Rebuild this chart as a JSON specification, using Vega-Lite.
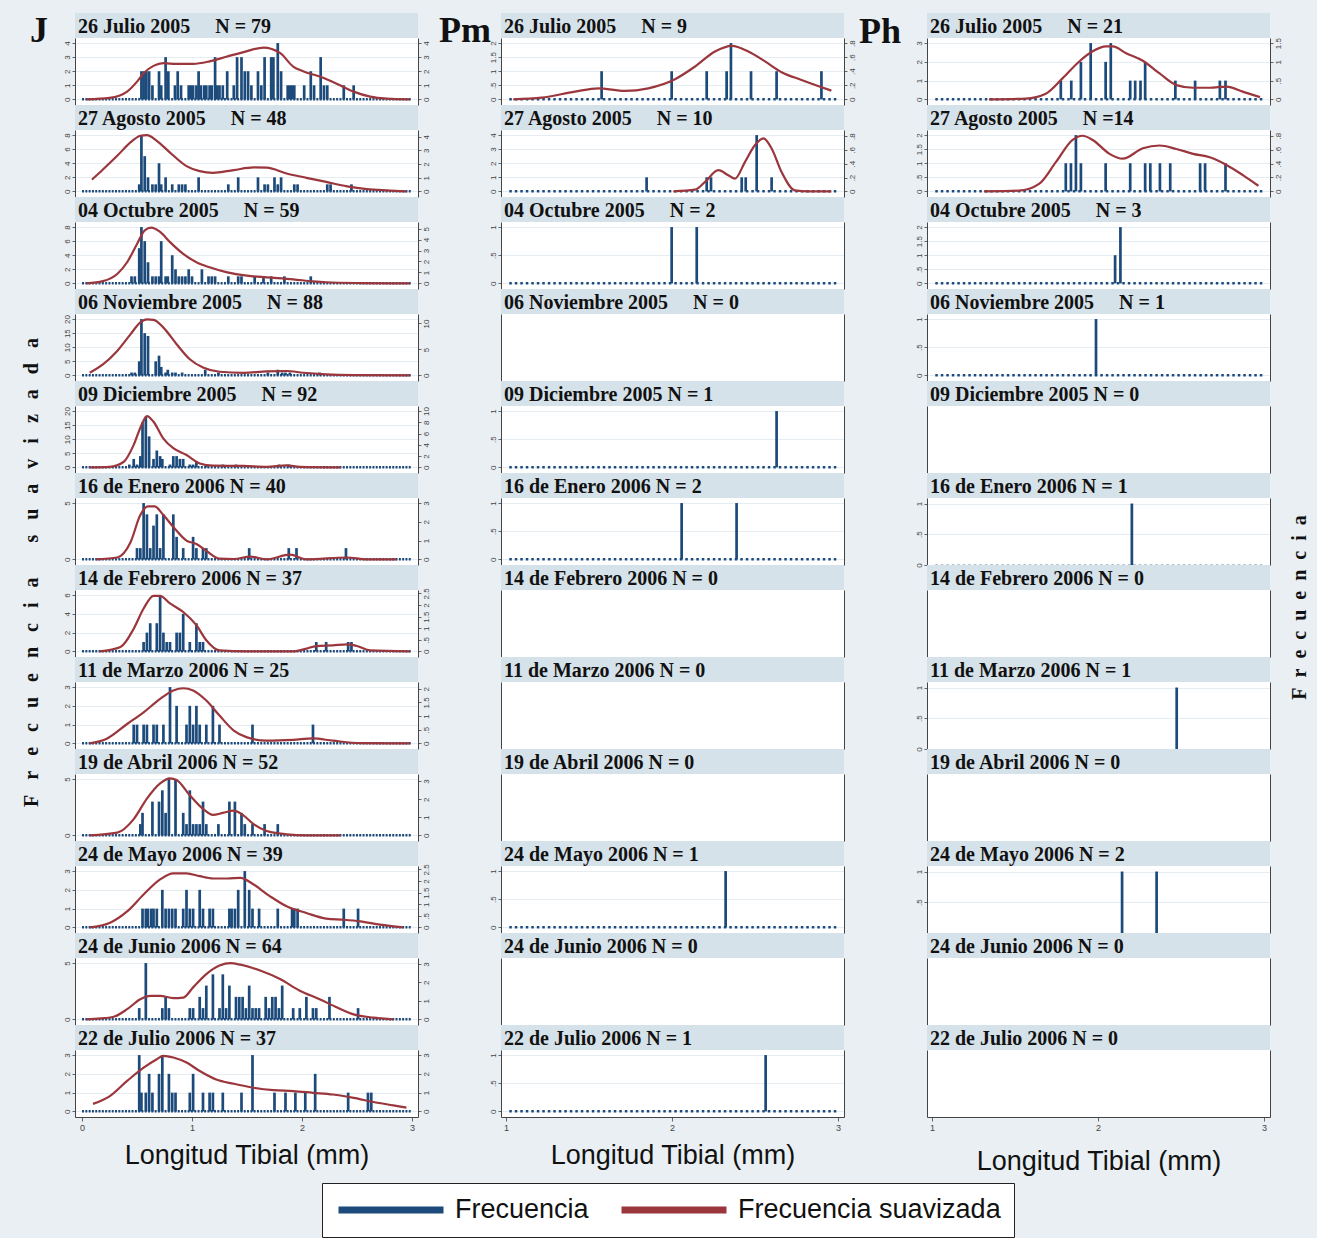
{
"$schema":"https://vega.github.io/schema/vega-lite/v6.json",
"background":"#e9eff3",
"padding":{"left":20,"top":12,"right":8,"bottom":2},
"columns":3,
"spacing":{"row":0,"column":83},
"bounds":"flush",
"concat":[
{"height":25,"view":{"fill":"#d6e2e9"},"data":{"values":[{"t":"26 Julio 2005\u00a0\u00a0\u00a0\u00a0\u00a0N = 79"}]},"layer":[{"mark":"text","encoding":{"text":{"field":"t"},"x":{"datum":0,"scale":{"domain":[0,1]},"axis":null}}},{"mark":{"type":"text","text":"J","fontSize":36,"align":"right","dx":-27,"dy":16},"encoding":{"x":{"datum":0,"axis":null}}}]},
{"height":25,"view":{"fill":"#d6e2e9"},"data":{"values":[{"t":"26 Julio 2005\u00a0\u00a0\u00a0\u00a0\u00a0N = 9"}]},"layer":[{"mark":"text","encoding":{"text":{"field":"t"},"x":{"datum":0,"scale":{"domain":[0,1]},"axis":null}}},{"mark":{"type":"text","text":"Pm","fontSize":36,"align":"right","dx":-10,"dy":16},"encoding":{"x":{"datum":0,"axis":null}}}]},
{"height":25,"view":{"fill":"#d6e2e9"},"data":{"values":[{"t":"26 Julio 2005\u00a0\u00a0\u00a0\u00a0\u00a0N = 21"}]},"layer":[{"mark":"text","encoding":{"text":{"field":"t"},"x":{"datum":0,"scale":{"domain":[0,1]},"axis":null}}},{"mark":{"type":"text","text":"Ph","fontSize":36,"align":"right","dx":-26,"dy":17},"encoding":{"x":{"datum":0,"axis":null}}}]},

{"layer":[{"data":{"name":"J1"},"mark":"rule","encoding":{"x":{"field":"x","type":"quantitative","scale":{"domain":[-0.064,3.055],"nice":false},"axis":null},"y":{"field":"f","type":"quantitative","title":null,"scale":{"domain":[-0.4,4.36],"nice":false},"axis":{"values":[0,1,2,3,4]}},"y2":{"datum":0},"strokeWidth":{"value":2.7},"color":{"datum":"Frecuencia","legend":{"title":null}}}},{"data":{"values":[{}]},"mark":{"type":"rule","strokeDash":[2,1.3],"strokeWidth":2.5,"color":"#1c4a7a"},"encoding":{"x":{"datum":0,"axis":null},"x2":{"datum":3},"y":{"datum":0,"scale":{"domain":[-0.4,4.36],"nice":false},"axis":null}}},{"data":{"name":"J1s"},"mark":"line","encoding":{"x":{"field":"x","type":"quantitative","axis":null},"y":{"field":"s","type":"quantitative","title":null,"scale":{"domain":[-0.4,4.36],"nice":false},"axis":{"orient":"right","values":[0,1,2,3,4]}},"strokeWidth":{"value":2.2},"color":{"datum":"Frecuencia suavizada","legend":{"title":null}}}}],"resolve":{"scale":{"y":"independent"}}},
{"layer":[{"data":{"name":"P1"},"mark":"rule","encoding":{"x":{"field":"x","type":"quantitative","scale":{"domain":[0.97,3.036],"nice":false},"axis":null},"y":{"field":"f","type":"quantitative","title":null,"scale":{"domain":[-0.2,2.18],"nice":false},"axis":{"values":[0,0.5,1,1.5,2]}},"y2":{"datum":0},"strokeWidth":{"value":2.7},"color":{"datum":"Frecuencia","legend":{"title":null}}}},{"data":{"values":[{}]},"mark":{"type":"rule","strokeDash":[2.5,3],"strokeWidth":2.5,"color":"#1c4a7a"},"encoding":{"x":{"datum":1.02,"axis":null},"x2":{"datum":2.99},"y":{"datum":0,"scale":{"domain":[-0.2,2.18],"nice":false},"axis":null}}},{"data":{"name":"P1s"},"mark":"line","encoding":{"x":{"field":"x","type":"quantitative","axis":null},"y":{"field":"s","type":"quantitative","title":null,"scale":{"domain":[-0.08,0.872],"nice":false},"axis":{"orient":"right","values":[0,0.2,0.4,0.6,0.8]}},"strokeWidth":{"value":2.2},"color":{"datum":"Frecuencia suavizada","legend":{"title":null}}}}],"resolve":{"scale":{"y":"independent"}}},
{"layer":[{"data":{"name":"H1"},"mark":"rule","encoding":{"x":{"field":"x","type":"quantitative","scale":{"domain":[0.97,3.036],"nice":false},"axis":null},"y":{"field":"f","type":"quantitative","title":null,"scale":{"domain":[-0.3,3.27],"nice":false},"axis":{"values":[0,1,2,3]}},"y2":{"datum":0},"strokeWidth":{"value":2.7},"color":{"datum":"Frecuencia","legend":{"title":null}}}},{"data":{"values":[{}]},"mark":{"type":"rule","strokeDash":[2.5,3],"strokeWidth":2.5,"color":"#1c4a7a"},"encoding":{"x":{"datum":1.02,"axis":null},"x2":{"datum":2.99},"y":{"datum":0,"scale":{"domain":[-0.3,3.27],"nice":false},"axis":null}}},{"data":{"name":"H1s"},"mark":"line","encoding":{"x":{"field":"x","type":"quantitative","axis":null},"y":{"field":"s","type":"quantitative","title":null,"scale":{"domain":[-0.15,1.635],"nice":false},"axis":{"orient":"right","values":[0,0.5,1,1.5]}},"strokeWidth":{"value":2.2},"color":{"datum":"Frecuencia suavizada","legend":{"title":null}}}}],"resolve":{"scale":{"y":"independent"}}},

{"height":25,"view":{"fill":"#d6e2e9"},"data":{"values":[{"t":"27 Agosto 2005\u00a0\u00a0\u00a0\u00a0\u00a0N = 48"}]},"mark":"text","encoding":{"text":{"field":"t"},"x":{"datum":0,"scale":{"domain":[0,1]},"axis":null}}},
{"height":25,"view":{"fill":"#d6e2e9"},"data":{"values":[{"t":"27 Agosto 2005\u00a0\u00a0\u00a0\u00a0\u00a0N = 10"}]},"mark":"text","encoding":{"text":{"field":"t"},"x":{"datum":0,"scale":{"domain":[0,1]},"axis":null}}},
{"height":25,"view":{"fill":"#d6e2e9"},"data":{"values":[{"t":"27 Agosto 2005\u00a0\u00a0\u00a0\u00a0\u00a0N =14"}]},"mark":"text","encoding":{"text":{"field":"t"},"x":{"datum":0,"scale":{"domain":[0,1]},"axis":null}}},

{"layer":[{"data":{"name":"J2"},"mark":"rule","encoding":{"x":{"field":"x","type":"quantitative","scale":{"domain":[-0.064,3.055],"nice":false},"axis":null},"y":{"field":"f","type":"quantitative","title":null,"scale":{"domain":[-0.8,8.72],"nice":false},"axis":{"values":[0,2,4,6,8]}},"y2":{"datum":0},"strokeWidth":{"value":2.7},"color":{"datum":"Frecuencia","legend":{"title":null}}}},{"data":{"values":[{}]},"mark":{"type":"rule","strokeDash":[2,1.3],"strokeWidth":2.5,"color":"#1c4a7a"},"encoding":{"x":{"datum":0,"axis":null},"x2":{"datum":3},"y":{"datum":0,"scale":{"domain":[-0.8,8.72],"nice":false},"axis":null}}},{"data":{"name":"J2s"},"mark":"line","encoding":{"x":{"field":"x","type":"quantitative","axis":null},"y":{"field":"s","type":"quantitative","title":null,"scale":{"domain":[-0.412,4.49],"nice":false},"axis":{"orient":"right","values":[0,1,2,3,4]}},"strokeWidth":{"value":2.2},"color":{"datum":"Frecuencia suavizada","legend":{"title":null}}}}],"resolve":{"scale":{"y":"independent"}}},
{"layer":[{"data":{"name":"P2"},"mark":"rule","encoding":{"x":{"field":"x","type":"quantitative","scale":{"domain":[0.97,3.036],"nice":false},"axis":null},"y":{"field":"f","type":"quantitative","title":null,"scale":{"domain":[-0.4,4.36],"nice":false},"axis":{"values":[0,1,2,3,4]}},"y2":{"datum":0},"strokeWidth":{"value":2.7},"color":{"datum":"Frecuencia","legend":{"title":null}}}},{"data":{"values":[{}]},"mark":{"type":"rule","strokeDash":[2.5,3],"strokeWidth":2.5,"color":"#1c4a7a"},"encoding":{"x":{"datum":1.02,"axis":null},"x2":{"datum":2.99},"y":{"datum":0,"scale":{"domain":[-0.4,4.36],"nice":false},"axis":null}}},{"data":{"name":"P2s"},"mark":"line","encoding":{"x":{"field":"x","type":"quantitative","axis":null},"y":{"field":"s","type":"quantitative","title":null,"scale":{"domain":[-0.0815,0.888],"nice":false},"axis":{"orient":"right","values":[0,0.2,0.4,0.6,0.8]}},"strokeWidth":{"value":2.2},"color":{"datum":"Frecuencia suavizada","legend":{"title":null}}}}],"resolve":{"scale":{"y":"independent"}}},
{"layer":[{"data":{"name":"H2"},"mark":"rule","encoding":{"x":{"field":"x","type":"quantitative","scale":{"domain":[0.97,3.036],"nice":false},"axis":null},"y":{"field":"f","type":"quantitative","title":null,"scale":{"domain":[-0.2,2.18],"nice":false},"axis":{"values":[0,0.5,1,1.5,2]}},"y2":{"datum":0},"strokeWidth":{"value":2.7},"color":{"datum":"Frecuencia","legend":{"title":null}}}},{"data":{"values":[{}]},"mark":{"type":"rule","strokeDash":[2.5,3],"strokeWidth":2.5,"color":"#1c4a7a"},"encoding":{"x":{"datum":1.02,"axis":null},"x2":{"datum":2.99},"y":{"datum":0,"scale":{"domain":[-0.2,2.18],"nice":false},"axis":null}}},{"data":{"name":"H2s"},"mark":"line","encoding":{"x":{"field":"x","type":"quantitative","axis":null},"y":{"field":"s","type":"quantitative","title":null,"scale":{"domain":[-0.081,0.883],"nice":false},"axis":{"orient":"right","values":[0,0.2,0.4,0.6,0.8]}},"strokeWidth":{"value":2.2},"color":{"datum":"Frecuencia suavizada","legend":{"title":null}}}}],"resolve":{"scale":{"y":"independent"}}},

{"height":25,"view":{"fill":"#d6e2e9"},"data":{"values":[{"t":"04 Octubre 2005\u00a0\u00a0\u00a0\u00a0\u00a0N = 59"}]},"mark":"text","encoding":{"text":{"field":"t"},"x":{"datum":0,"scale":{"domain":[0,1]},"axis":null}}},
{"height":25,"view":{"fill":"#d6e2e9"},"data":{"values":[{"t":"04 Octubre 2005\u00a0\u00a0\u00a0\u00a0\u00a0N = 2"}]},"mark":"text","encoding":{"text":{"field":"t"},"x":{"datum":0,"scale":{"domain":[0,1]},"axis":null}}},
{"height":25,"view":{"fill":"#d6e2e9"},"data":{"values":[{"t":"04 Octubre 2005\u00a0\u00a0\u00a0\u00a0\u00a0N = 3"}]},"mark":"text","encoding":{"text":{"field":"t"},"x":{"datum":0,"scale":{"domain":[0,1]},"axis":null}}},

{"layer":[{"data":{"name":"J3"},"mark":"rule","encoding":{"x":{"field":"x","type":"quantitative","scale":{"domain":[-0.064,3.055],"nice":false},"axis":null},"y":{"field":"f","type":"quantitative","title":null,"scale":{"domain":[-0.8,8.72],"nice":false},"axis":{"values":[0,2,4,6,8]}},"y2":{"datum":0},"strokeWidth":{"value":2.7},"color":{"datum":"Frecuencia","legend":{"title":null}}}},{"data":{"values":[{}]},"mark":{"type":"rule","strokeDash":[2,1.3],"strokeWidth":2.5,"color":"#1c4a7a"},"encoding":{"x":{"datum":0,"axis":null},"x2":{"datum":3},"y":{"datum":0,"scale":{"domain":[-0.8,8.72],"nice":false},"axis":null}}},{"data":{"name":"J3s"},"mark":"line","encoding":{"x":{"field":"x","type":"quantitative","axis":null},"y":{"field":"s","type":"quantitative","title":null,"scale":{"domain":[-0.515,5.61],"nice":false},"axis":{"orient":"right","values":[0,1,2,3,4,5]}},"strokeWidth":{"value":2.2},"color":{"datum":"Frecuencia suavizada","legend":{"title":null}}}}],"resolve":{"scale":{"y":"independent"}}},
{"layer":[{"data":{"values":[{"x":1.998,"f":1},{"x":2.149,"f":1}]},"mark":"rule","encoding":{"x":{"field":"x","type":"quantitative","scale":{"domain":[0.97,3.036],"nice":false},"axis":null},"y":{"field":"f","type":"quantitative","title":null,"scale":{"domain":[-0.1,1.09],"nice":false},"axis":{"values":[0,0.5,1]}},"y2":{"datum":0},"strokeWidth":{"value":2.7},"color":{"datum":"Frecuencia","legend":{"title":null}}}},{"data":{"values":[{}]},"mark":{"type":"rule","strokeDash":[2.5,3],"strokeWidth":2.5,"color":"#1c4a7a"},"encoding":{"x":{"datum":1.02,"axis":null},"x2":{"datum":2.99},"y":{"datum":0,"scale":{"domain":[-0.1,1.09],"nice":false},"axis":null}}},{"data":{"values":[{}]},"mark":{"type":"point","opacity":0},"encoding":{"x":{"datum":2,"axis":null},"y":{"datum":0,"scale":{"domain":[0,1]},"axis":{"orient":"right","labels":false,"ticks":false,"grid":false,"title":null}}}}],"resolve":{"scale":{"y":"independent"}}},
{"layer":[{"data":{"values":[{"x":2.103,"f":1},{"x":2.135,"f":2}]},"mark":"rule","encoding":{"x":{"field":"x","type":"quantitative","scale":{"domain":[0.97,3.036],"nice":false},"axis":null},"y":{"field":"f","type":"quantitative","title":null,"scale":{"domain":[-0.2,2.18],"nice":false},"axis":{"values":[0,0.5,1,1.5,2]}},"y2":{"datum":0},"strokeWidth":{"value":2.7},"color":{"datum":"Frecuencia","legend":{"title":null}}}},{"data":{"values":[{}]},"mark":{"type":"rule","strokeDash":[2.5,3],"strokeWidth":2.5,"color":"#1c4a7a"},"encoding":{"x":{"datum":1.02,"axis":null},"x2":{"datum":2.99},"y":{"datum":0,"scale":{"domain":[-0.2,2.18],"nice":false},"axis":null}}},{"data":{"values":[{}]},"mark":{"type":"point","opacity":0},"encoding":{"x":{"datum":2,"axis":null},"y":{"datum":0,"scale":{"domain":[0,1]},"axis":{"orient":"right","labels":false,"ticks":false,"grid":false,"title":null}}}}],"resolve":{"scale":{"y":"independent"}}},

{"height":25,"view":{"fill":"#d6e2e9"},"data":{"values":[{"t":"06 Noviembre 2005\u00a0\u00a0\u00a0\u00a0\u00a0N = 88"}]},"mark":"text","encoding":{"text":{"field":"t"},"x":{"datum":0,"scale":{"domain":[0,1]},"axis":null}}},
{"height":25,"view":{"fill":"#d6e2e9"},"data":{"values":[{"t":"06 Noviembre 2005\u00a0\u00a0\u00a0\u00a0\u00a0N = 0"}]},"mark":"text","encoding":{"text":{"field":"t"},"x":{"datum":0,"scale":{"domain":[0,1]},"axis":null}}},
{"height":25,"view":{"fill":"#d6e2e9"},"data":{"values":[{"t":"06 Noviembre 2005\u00a0\u00a0\u00a0\u00a0\u00a0N = 1"}]},"mark":"text","encoding":{"text":{"field":"t"},"x":{"datum":0,"scale":{"domain":[0,1]},"axis":null}}},

{"layer":[{"data":{"name":"J4"},"mark":"rule","encoding":{"x":{"field":"x","type":"quantitative","scale":{"domain":[-0.064,3.055],"nice":false},"axis":null},"y":{"field":"f","type":"quantitative","title":null,"scale":{"domain":[-2,21.8],"nice":false},"axis":{"values":[0,5,10,15,20]}},"y2":{"datum":0},"strokeWidth":{"value":2.7},"color":{"datum":"Frecuencia","legend":{"title":null}}}},{"data":{"values":[{}]},"mark":{"type":"rule","strokeDash":[2,1.3],"strokeWidth":2.5,"color":"#1c4a7a"},"encoding":{"x":{"datum":0,"axis":null},"x2":{"datum":3},"y":{"datum":0,"scale":{"domain":[-2,21.8],"nice":false},"axis":null}}},{"data":{"name":"J4s"},"mark":"line","encoding":{"x":{"field":"x","type":"quantitative","axis":null},"y":{"field":"s","type":"quantitative","title":null,"scale":{"domain":[-1.084,11.82],"nice":false},"axis":{"orient":"right","values":[0,5,10]}},"strokeWidth":{"value":2.2},"color":{"datum":"Frecuencia suavizada","legend":{"title":null}}}}],"resolve":{"scale":{"y":"independent"}}},
{"width":343,"data":{"values":[{}]},"encoding":{"x":{"datum":2,"scale":{"domain":[0.97,3.036],"nice":false},"axis":null}},"layer":[{"mark":{"type":"point","opacity":0},"encoding":{"y":{"datum":0,"scale":{"domain":[0,1]},"axis":{"labels":false,"ticks":false,"grid":false,"title":null}}}},{"mark":{"type":"point","opacity":0},"encoding":{"y":{"datum":0,"scale":{"domain":[0,1]},"axis":{"orient":"right","labels":false,"ticks":false,"grid":false,"title":null}}}}],"resolve":{"scale":{"y":"independent"}}},
{"layer":[{"data":{"values":[{"x":1.988,"f":1}]},"mark":"rule","encoding":{"x":{"field":"x","type":"quantitative","scale":{"domain":[0.97,3.036],"nice":false},"axis":null},"y":{"field":"f","type":"quantitative","title":null,"scale":{"domain":[-0.1,1.09],"nice":false},"axis":{"values":[0,0.5,1]}},"y2":{"datum":0},"strokeWidth":{"value":2.7},"color":{"datum":"Frecuencia","legend":{"title":null}}}},{"data":{"values":[{}]},"mark":{"type":"rule","strokeDash":[2.5,3],"strokeWidth":2.5,"color":"#1c4a7a"},"encoding":{"x":{"datum":1.02,"axis":null},"x2":{"datum":2.99},"y":{"datum":0,"scale":{"domain":[-0.1,1.09],"nice":false},"axis":null}}},{"data":{"values":[{}]},"mark":{"type":"point","opacity":0},"encoding":{"x":{"datum":2,"axis":null},"y":{"datum":0,"scale":{"domain":[0,1]},"axis":{"orient":"right","labels":false,"ticks":false,"grid":false,"title":null}}}}],"resolve":{"scale":{"y":"independent"}}},

{"height":25,"view":{"fill":"#d6e2e9"},"data":{"values":[{"t":"09 Diciembre 2005\u00a0\u00a0\u00a0\u00a0\u00a0N = 92"}]},"mark":"text","encoding":{"text":{"field":"t"},"x":{"datum":0,"scale":{"domain":[0,1]},"axis":null}}},
{"height":25,"view":{"fill":"#d6e2e9"},"data":{"values":[{"t":"09 Diciembre 2005 N = 1"}]},"mark":"text","encoding":{"text":{"field":"t"},"x":{"datum":0,"scale":{"domain":[0,1]},"axis":null}}},
{"height":25,"view":{"fill":"#d6e2e9"},"data":{"values":[{"t":"09 Diciembre 2005 N = 0"}]},"mark":"text","encoding":{"text":{"field":"t"},"x":{"datum":0,"scale":{"domain":[0,1]},"axis":null}}},

{"layer":[{"data":{"name":"J5"},"mark":"rule","encoding":{"x":{"field":"x","type":"quantitative","scale":{"domain":[-0.064,3.055],"nice":false},"axis":null},"y":{"field":"f","type":"quantitative","title":null,"scale":{"domain":[-2,21.8],"nice":false},"axis":{"values":[0,5,10,15,20]}},"y2":{"datum":0},"strokeWidth":{"value":2.7},"color":{"datum":"Frecuencia","legend":{"title":null}}}},{"data":{"values":[{}]},"mark":{"type":"rule","strokeDash":[2,1.3],"strokeWidth":2.5,"color":"#1c4a7a"},"encoding":{"x":{"datum":0,"axis":null},"x2":{"datum":3},"y":{"datum":0,"scale":{"domain":[-2,21.8],"nice":false},"axis":null}}},{"data":{"name":"J5s"},"mark":"line","encoding":{"x":{"field":"x","type":"quantitative","axis":null},"y":{"field":"s","type":"quantitative","title":null,"scale":{"domain":[-1,10.9],"nice":false},"axis":{"orient":"right","values":[0,2,4,6,8,10]}},"strokeWidth":{"value":2.2},"color":{"datum":"Frecuencia suavizada","legend":{"title":null}}}}],"resolve":{"scale":{"y":"independent"}}},
{"layer":[{"data":{"values":[{"x":2.63,"f":1}]},"mark":"rule","encoding":{"x":{"field":"x","type":"quantitative","scale":{"domain":[0.97,3.036],"nice":false},"axis":null},"y":{"field":"f","type":"quantitative","title":null,"scale":{"domain":[-0.1,1.09],"nice":false},"axis":{"values":[0,0.5,1]}},"y2":{"datum":0},"strokeWidth":{"value":2.7},"color":{"datum":"Frecuencia","legend":{"title":null}}}},{"data":{"values":[{}]},"mark":{"type":"rule","strokeDash":[2.5,3],"strokeWidth":2.5,"color":"#1c4a7a"},"encoding":{"x":{"datum":1.02,"axis":null},"x2":{"datum":2.99},"y":{"datum":0,"scale":{"domain":[-0.1,1.09],"nice":false},"axis":null}}},{"data":{"values":[{}]},"mark":{"type":"point","opacity":0},"encoding":{"x":{"datum":2,"axis":null},"y":{"datum":0,"scale":{"domain":[0,1]},"axis":{"orient":"right","labels":false,"ticks":false,"grid":false,"title":null}}}}],"resolve":{"scale":{"y":"independent"}}},
{"width":343,"data":{"values":[{}]},"encoding":{"x":{"datum":2,"scale":{"domain":[0.97,3.036],"nice":false},"axis":null}},"layer":[{"mark":{"type":"point","opacity":0},"encoding":{"y":{"datum":0,"scale":{"domain":[0,1]},"axis":{"labels":false,"ticks":false,"grid":false,"title":null}}}},{"mark":{"type":"point","opacity":0},"encoding":{"y":{"datum":0,"scale":{"domain":[0,1]},"axis":{"orient":"right","labels":false,"ticks":false,"grid":false,"title":null}}}}],"resolve":{"scale":{"y":"independent"}}},

{"height":25,"view":{"fill":"#d6e2e9"},"data":{"values":[{"t":"16 de Enero 2006 N = 40"}]},"mark":"text","encoding":{"text":{"field":"t"},"x":{"datum":0,"scale":{"domain":[0,1]},"axis":null}}},
{"height":25,"view":{"fill":"#d6e2e9"},"data":{"values":[{"t":"16 de Enero 2006 N = 2"}]},"mark":"text","encoding":{"text":{"field":"t"},"x":{"datum":0,"scale":{"domain":[0,1]},"axis":null}}},
{"height":25,"view":{"fill":"#d6e2e9"},"data":{"values":[{"t":"16 de Enero 2006 N = 1"}]},"mark":"text","encoding":{"text":{"field":"t"},"x":{"datum":0,"scale":{"domain":[0,1]},"axis":null}}},

{"layer":[{"data":{"name":"J6"},"mark":"rule","encoding":{"x":{"field":"x","type":"quantitative","scale":{"domain":[-0.064,3.055],"nice":false},"axis":null},"y":{"field":"f","type":"quantitative","title":null,"scale":{"domain":[-0.5,5.45],"nice":false},"axis":{"values":[0,5]}},"y2":{"datum":0},"strokeWidth":{"value":2.7},"color":{"datum":"Frecuencia","legend":{"title":null}}}},{"data":{"values":[{}]},"mark":{"type":"rule","strokeDash":[2,1.3],"strokeWidth":2.5,"color":"#1c4a7a"},"encoding":{"x":{"datum":0,"axis":null},"x2":{"datum":3},"y":{"datum":0,"scale":{"domain":[-0.5,5.45],"nice":false},"axis":null}}},{"data":{"name":"J6s"},"mark":"line","encoding":{"x":{"field":"x","type":"quantitative","axis":null},"y":{"field":"s","type":"quantitative","title":null,"scale":{"domain":[-0.3,3.27],"nice":false},"axis":{"orient":"right","values":[0,1,2,3]}},"strokeWidth":{"value":2.2},"color":{"datum":"Frecuencia suavizada","legend":{"title":null}}}}],"resolve":{"scale":{"y":"independent"}}},
{"layer":[{"data":{"values":[{"x":2.058,"f":1},{"x":2.389,"f":1}]},"mark":"rule","encoding":{"x":{"field":"x","type":"quantitative","scale":{"domain":[0.97,3.036],"nice":false},"axis":null},"y":{"field":"f","type":"quantitative","title":null,"scale":{"domain":[-0.1,1.09],"nice":false},"axis":{"values":[0,0.5,1]}},"y2":{"datum":0},"strokeWidth":{"value":2.7},"color":{"datum":"Frecuencia","legend":{"title":null}}}},{"data":{"values":[{}]},"mark":{"type":"rule","strokeDash":[2.5,3],"strokeWidth":2.5,"color":"#1c4a7a"},"encoding":{"x":{"datum":1.02,"axis":null},"x2":{"datum":2.99},"y":{"datum":0,"scale":{"domain":[-0.1,1.09],"nice":false},"axis":null}}},{"data":{"values":[{}]},"mark":{"type":"point","opacity":0},"encoding":{"x":{"datum":2,"axis":null},"y":{"datum":0,"scale":{"domain":[0,1]},"axis":{"orient":"right","labels":false,"ticks":false,"grid":false,"title":null}}}}],"resolve":{"scale":{"y":"independent"}}},
{"layer":[{"data":{"values":[{"x":2.204,"f":1}]},"mark":"rule","encoding":{"x":{"field":"x","type":"quantitative","scale":{"domain":[0.97,3.036],"nice":false},"axis":null},"y":{"field":"f","type":"quantitative","title":null,"scale":{"domain":[0,1.09],"nice":false},"axis":{"values":[0,0.5,1]}},"y2":{"datum":0},"strokeWidth":{"value":2.7},"color":{"datum":"Frecuencia","legend":{"title":null}}}},{"data":{"values":[{}]},"mark":{"type":"rule","strokeDash":[2.5,3],"strokeWidth":2,"color":"#1c4a7a","opacity":0.35},"encoding":{"x":{"datum":1.02,"axis":null},"x2":{"datum":2.99},"y":{"datum":0,"scale":{"domain":[0,1.09],"nice":false},"axis":null}}},{"data":{"values":[{}]},"mark":{"type":"point","opacity":0},"encoding":{"x":{"datum":2,"axis":null},"y":{"datum":0,"scale":{"domain":[0,1]},"axis":{"orient":"right","labels":false,"ticks":false,"grid":false,"title":null}}}}],"resolve":{"scale":{"y":"independent"}}},

{"height":25,"view":{"fill":"#d6e2e9"},"data":{"values":[{"t":"14 de Febrero 2006 N =  37"}]},"mark":"text","encoding":{"text":{"field":"t"},"x":{"datum":0,"scale":{"domain":[0,1]},"axis":null}}},
{"height":25,"view":{"fill":"#d6e2e9"},"data":{"values":[{"t":"14 de Febrero 2006 N = 0"}]},"mark":"text","encoding":{"text":{"field":"t"},"x":{"datum":0,"scale":{"domain":[0,1]},"axis":null}}},
{"height":25,"view":{"fill":"#d6e2e9"},"data":{"values":[{"t":"14 de Febrero 2006 N = 0"}]},"mark":"text","encoding":{"text":{"field":"t"},"x":{"datum":0,"scale":{"domain":[0,1]},"axis":null}}},

{"layer":[{"data":{"name":"J7"},"mark":"rule","encoding":{"x":{"field":"x","type":"quantitative","scale":{"domain":[-0.064,3.055],"nice":false},"axis":null},"y":{"field":"f","type":"quantitative","scale":{"domain":[-0.6,6.54],"nice":false},"axis":{"values":[0,2,4,6],"title":"F\u00a0\u00a0\u00a0r\u00a0\u00a0\u00a0e\u00a0\u00a0\u00a0c\u00a0\u00a0\u00a0u\u00a0\u00a0\u00a0e\u00a0\u00a0\u00a0n\u00a0\u00a0\u00a0c\u00a0\u00a0\u00a0i\u00a0\u00a0\u00a0a\u00a0\u00a0\u00a0\u00a0\u00a0\u00a0\u00a0s\u00a0\u00a0\u00a0u\u00a0\u00a0\u00a0a\u00a0\u00a0\u00a0v\u00a0\u00a0\u00a0i\u00a0\u00a0\u00a0z\u00a0\u00a0\u00a0a\u00a0\u00a0\u00a0d\u00a0\u00a0\u00a0a","titleX":-44,"titleY":-18,"titleAngle":-90,"titleFont":"Liberation Serif","titleFontWeight":"bold","titleFontSize":20,"titleColor":"#111111","titleBaseline":"middle","titleAlign":"center"}},"y2":{"datum":0},"strokeWidth":{"value":2.7},"color":{"datum":"Frecuencia","legend":{"title":null}}}},{"data":{"values":[{}]},"mark":{"type":"rule","strokeDash":[2,1.3],"strokeWidth":2.5,"color":"#1c4a7a"},"encoding":{"x":{"datum":0,"axis":null},"x2":{"datum":3},"y":{"datum":0,"scale":{"domain":[-0.6,6.54],"nice":false},"axis":null}}},{"data":{"name":"J7s"},"mark":"line","encoding":{"x":{"field":"x","type":"quantitative","axis":null},"y":{"field":"s","type":"quantitative","title":null,"scale":{"domain":[-0.243,2.65],"nice":false},"axis":{"orient":"right","values":[0,0.5,1,1.5,2,2.5]}},"strokeWidth":{"value":2.2},"color":{"datum":"Frecuencia suavizada","legend":{"title":null}}}}],"resolve":{"scale":{"y":"independent"}}},
{"width":343,"data":{"values":[{}]},"encoding":{"x":{"datum":2,"scale":{"domain":[0.97,3.036],"nice":false},"axis":null}},"layer":[{"mark":{"type":"point","opacity":0},"encoding":{"y":{"datum":0,"scale":{"domain":[0,1]},"axis":{"labels":false,"ticks":false,"grid":false,"title":null}}}},{"mark":{"type":"point","opacity":0},"encoding":{"y":{"datum":0,"scale":{"domain":[0,1]},"axis":{"orient":"right","labels":false,"ticks":false,"grid":false,"title":null}}}}],"resolve":{"scale":{"y":"independent"}}},
{"width":343,"data":{"values":[{}]},"encoding":{"x":{"datum":2,"scale":{"domain":[0.97,3.036],"nice":false},"axis":null}},"layer":[{"mark":{"type":"point","opacity":0},"encoding":{"y":{"datum":0,"scale":{"domain":[0,1]},"axis":{"labels":false,"ticks":false,"grid":false,"title":null}}}},{"mark":{"type":"point","opacity":0},"encoding":{"y":{"datum":0,"scale":{"domain":[0,1]},"axis":{"orient":"right","labels":false,"ticks":false,"grid":false,"title":"F\u00a0\u00a0r\u00a0\u00a0e\u00a0\u00a0c\u00a0\u00a0u\u00a0\u00a0e\u00a0\u00a0n\u00a0\u00a0c\u00a0\u00a0i\u00a0\u00a0a","titleX":29,"titleY":17,"titleAngle":-90,"titleFont":"Liberation Serif","titleFontWeight":"bold","titleFontSize":20,"titleColor":"#111111","titleBaseline":"middle","titleAlign":"center"}}}}],"resolve":{"scale":{"y":"independent"}}},

{"height":25,"view":{"fill":"#d6e2e9"},"data":{"values":[{"t":"11 de Marzo 2006 N = 25"}]},"mark":"text","encoding":{"text":{"field":"t"},"x":{"datum":0,"scale":{"domain":[0,1]},"axis":null}}},
{"height":25,"view":{"fill":"#d6e2e9"},"data":{"values":[{"t":"11 de Marzo 2006 N = 0"}]},"mark":"text","encoding":{"text":{"field":"t"},"x":{"datum":0,"scale":{"domain":[0,1]},"axis":null}}},
{"height":25,"view":{"fill":"#d6e2e9"},"data":{"values":[{"t":"11 de Marzo 2006 N = 1"}]},"mark":"text","encoding":{"text":{"field":"t"},"x":{"datum":0,"scale":{"domain":[0,1]},"axis":null}}},

{"layer":[{"data":{"name":"J8"},"mark":"rule","encoding":{"x":{"field":"x","type":"quantitative","scale":{"domain":[-0.064,3.055],"nice":false},"axis":null},"y":{"field":"f","type":"quantitative","title":null,"scale":{"domain":[-0.3,3.27],"nice":false},"axis":{"values":[0,1,2,3]}},"y2":{"datum":0},"strokeWidth":{"value":2.7},"color":{"datum":"Frecuencia","legend":{"title":null}}}},{"data":{"values":[{}]},"mark":{"type":"rule","strokeDash":[2,1.3],"strokeWidth":2.5,"color":"#1c4a7a"},"encoding":{"x":{"datum":0,"axis":null},"x2":{"datum":3},"y":{"datum":0,"scale":{"domain":[-0.3,3.27],"nice":false},"axis":null}}},{"data":{"name":"J8s"},"mark":"line","encoding":{"x":{"field":"x","type":"quantitative","axis":null},"y":{"field":"s","type":"quantitative","title":null,"scale":{"domain":[-0.206,2.25],"nice":false},"axis":{"orient":"right","values":[0,0.5,1,1.5,2]}},"strokeWidth":{"value":2.2},"color":{"datum":"Frecuencia suavizada","legend":{"title":null}}}}],"resolve":{"scale":{"y":"independent"}}},
{"width":343,"data":{"values":[{}]},"encoding":{"x":{"datum":2,"scale":{"domain":[0.97,3.036],"nice":false},"axis":null}},"layer":[{"mark":{"type":"point","opacity":0},"encoding":{"y":{"datum":0,"scale":{"domain":[0,1]},"axis":{"labels":false,"ticks":false,"grid":false,"title":null}}}},{"mark":{"type":"point","opacity":0},"encoding":{"y":{"datum":0,"scale":{"domain":[0,1]},"axis":{"orient":"right","labels":false,"ticks":false,"grid":false,"title":null}}}}],"resolve":{"scale":{"y":"independent"}}},
{"layer":[{"data":{"values":[{"x":2.474,"f":1}]},"mark":"rule","encoding":{"x":{"field":"x","type":"quantitative","scale":{"domain":[0.97,3.036],"nice":false},"axis":null},"y":{"field":"f","type":"quantitative","title":null,"scale":{"domain":[0,1.09],"nice":false},"axis":{"values":[0,0.5,1]}},"y2":{"datum":0},"strokeWidth":{"value":2.7},"color":{"datum":"Frecuencia","legend":{"title":null}}}},{"data":{"values":[{}]},"mark":{"type":"point","opacity":0},"encoding":{"x":{"datum":2,"axis":null},"y":{"datum":0,"scale":{"domain":[0,1]},"axis":{"orient":"right","labels":false,"ticks":false,"grid":false,"title":null}}}}],"resolve":{"scale":{"y":"independent"}}},

{"height":25,"view":{"fill":"#d6e2e9"},"data":{"values":[{"t":"19 de Abril 2006 N = 52"}]},"mark":"text","encoding":{"text":{"field":"t"},"x":{"datum":0,"scale":{"domain":[0,1]},"axis":null}}},
{"height":25,"view":{"fill":"#d6e2e9"},"data":{"values":[{"t":"19 de Abril 2006 N = 0"}]},"mark":"text","encoding":{"text":{"field":"t"},"x":{"datum":0,"scale":{"domain":[0,1]},"axis":null}}},
{"height":25,"view":{"fill":"#d6e2e9"},"data":{"values":[{"t":"19 de Abril 2006 N = 0"}]},"mark":"text","encoding":{"text":{"field":"t"},"x":{"datum":0,"scale":{"domain":[0,1]},"axis":null}}},

{"layer":[{"data":{"name":"J9"},"mark":"rule","encoding":{"x":{"field":"x","type":"quantitative","scale":{"domain":[-0.064,3.055],"nice":false},"axis":null},"y":{"field":"f","type":"quantitative","title":null,"scale":{"domain":[-0.5,5.45],"nice":false},"axis":{"values":[0,5]}},"y2":{"datum":0},"strokeWidth":{"value":2.7},"color":{"datum":"Frecuencia","legend":{"title":null}}}},{"data":{"values":[{}]},"mark":{"type":"rule","strokeDash":[2,1.3],"strokeWidth":2.5,"color":"#1c4a7a"},"encoding":{"x":{"datum":0,"axis":null},"x2":{"datum":3},"y":{"datum":0,"scale":{"domain":[-0.5,5.45],"nice":false},"axis":null}}},{"data":{"name":"J9s"},"mark":"line","encoding":{"x":{"field":"x","type":"quantitative","axis":null},"y":{"field":"s","type":"quantitative","title":null,"scale":{"domain":[-0.311,3.39],"nice":false},"axis":{"orient":"right","values":[0,1,2,3]}},"strokeWidth":{"value":2.2},"color":{"datum":"Frecuencia suavizada","legend":{"title":null}}}}],"resolve":{"scale":{"y":"independent"}}},
{"width":343,"data":{"values":[{}]},"encoding":{"x":{"datum":2,"scale":{"domain":[0.97,3.036],"nice":false},"axis":null}},"layer":[{"mark":{"type":"point","opacity":0},"encoding":{"y":{"datum":0,"scale":{"domain":[0,1]},"axis":{"labels":false,"ticks":false,"grid":false,"title":null}}}},{"mark":{"type":"point","opacity":0},"encoding":{"y":{"datum":0,"scale":{"domain":[0,1]},"axis":{"orient":"right","labels":false,"ticks":false,"grid":false,"title":null}}}}],"resolve":{"scale":{"y":"independent"}}},
{"width":343,"data":{"values":[{}]},"encoding":{"x":{"datum":2,"scale":{"domain":[0.97,3.036],"nice":false},"axis":null}},"layer":[{"mark":{"type":"point","opacity":0},"encoding":{"y":{"datum":0,"scale":{"domain":[0,1]},"axis":{"labels":false,"ticks":false,"grid":false,"title":null}}}},{"mark":{"type":"point","opacity":0},"encoding":{"y":{"datum":0,"scale":{"domain":[0,1]},"axis":{"orient":"right","labels":false,"ticks":false,"grid":false,"title":null}}}}],"resolve":{"scale":{"y":"independent"}}},

{"height":25,"view":{"fill":"#d6e2e9"},"data":{"values":[{"t":"24 de Mayo 2006 N = 39"}]},"mark":"text","encoding":{"text":{"field":"t"},"x":{"datum":0,"scale":{"domain":[0,1]},"axis":null}}},
{"height":25,"view":{"fill":"#d6e2e9"},"data":{"values":[{"t":"24 de Mayo 2006 N = 1"}]},"mark":"text","encoding":{"text":{"field":"t"},"x":{"datum":0,"scale":{"domain":[0,1]},"axis":null}}},
{"height":25,"view":{"fill":"#d6e2e9"},"data":{"values":[{"t":"24 de Mayo 2006 N = 2"}]},"mark":"text","encoding":{"text":{"field":"t"},"x":{"datum":0,"scale":{"domain":[0,1]},"axis":null}}},

{"layer":[{"data":{"name":"J10"},"mark":"rule","encoding":{"x":{"field":"x","type":"quantitative","scale":{"domain":[-0.064,3.055],"nice":false},"axis":null},"y":{"field":"f","type":"quantitative","title":null,"scale":{"domain":[-0.3,3.27],"nice":false},"axis":{"values":[0,1,2,3]}},"y2":{"datum":0},"strokeWidth":{"value":2.7},"color":{"datum":"Frecuencia","legend":{"title":null}}}},{"data":{"values":[{}]},"mark":{"type":"rule","strokeDash":[2,1.3],"strokeWidth":2.5,"color":"#1c4a7a"},"encoding":{"x":{"datum":0,"axis":null},"x2":{"datum":3},"y":{"datum":0,"scale":{"domain":[-0.3,3.27],"nice":false},"axis":null}}},{"data":{"name":"J10s"},"mark":"line","encoding":{"x":{"field":"x","type":"quantitative","axis":null},"y":{"field":"s","type":"quantitative","title":null,"scale":{"domain":[-0.243,2.65],"nice":false},"axis":{"orient":"right","values":[0,0.5,1,1.5,2,2.5]}},"strokeWidth":{"value":2.2},"color":{"datum":"Frecuencia suavizada","legend":{"title":null}}}}],"resolve":{"scale":{"y":"independent"}}},
{"layer":[{"data":{"values":[{"x":2.323,"f":1}]},"mark":"rule","encoding":{"x":{"field":"x","type":"quantitative","scale":{"domain":[0.97,3.036],"nice":false},"axis":null},"y":{"field":"f","type":"quantitative","title":null,"scale":{"domain":[-0.1,1.09],"nice":false},"axis":{"values":[0,0.5,1]}},"y2":{"datum":0},"strokeWidth":{"value":2.7},"color":{"datum":"Frecuencia","legend":{"title":null}}}},{"data":{"values":[{}]},"mark":{"type":"rule","strokeDash":[2.5,3],"strokeWidth":2.5,"color":"#1c4a7a"},"encoding":{"x":{"datum":1.02,"axis":null},"x2":{"datum":2.99},"y":{"datum":0,"scale":{"domain":[-0.1,1.09],"nice":false},"axis":null}}},{"data":{"values":[{}]},"mark":{"type":"point","opacity":0},"encoding":{"x":{"datum":2,"axis":null},"y":{"datum":0,"scale":{"domain":[0,1]},"axis":{"orient":"right","labels":false,"ticks":false,"grid":false,"title":null}}}}],"resolve":{"scale":{"y":"independent"}}},
{"layer":[{"data":{"values":[{"x":2.145,"f":1},{"x":2.353,"f":1}]},"mark":"rule","encoding":{"x":{"field":"x","type":"quantitative","scale":{"domain":[0.97,3.036],"nice":false},"axis":null},"y":{"field":"f","type":"quantitative","title":null,"scale":{"domain":[0,1.09],"nice":false},"axis":{"values":[0.5,1]}},"y2":{"datum":0},"strokeWidth":{"value":2.7},"color":{"datum":"Frecuencia","legend":{"title":null}}}},{"data":{"values":[{}]},"mark":{"type":"point","opacity":0},"encoding":{"x":{"datum":2,"axis":null},"y":{"datum":0,"scale":{"domain":[0,1]},"axis":{"orient":"right","labels":false,"ticks":false,"grid":false,"title":null}}}}],"resolve":{"scale":{"y":"independent"}}},

{"height":25,"view":{"fill":"#d6e2e9"},"data":{"values":[{"t":"24 de Junio 2006 N = 64"}]},"mark":"text","encoding":{"text":{"field":"t"},"x":{"datum":0,"scale":{"domain":[0,1]},"axis":null}}},
{"height":25,"view":{"fill":"#d6e2e9"},"data":{"values":[{"t":"24 de Junio 2006 N = 0"}]},"mark":"text","encoding":{"text":{"field":"t"},"x":{"datum":0,"scale":{"domain":[0,1]},"axis":null}}},
{"height":25,"view":{"fill":"#d6e2e9"},"data":{"values":[{"t":"24 de Junio 2006 N = 0"}]},"mark":"text","encoding":{"text":{"field":"t"},"x":{"datum":0,"scale":{"domain":[0,1]},"axis":null}}},

{"layer":[{"data":{"name":"J11"},"mark":"rule","encoding":{"x":{"field":"x","type":"quantitative","scale":{"domain":[-0.064,3.055],"nice":false},"axis":null},"y":{"field":"f","type":"quantitative","title":null,"scale":{"domain":[-0.5,5.45],"nice":false},"axis":{"values":[0,5]}},"y2":{"datum":0},"strokeWidth":{"value":2.7},"color":{"datum":"Frecuencia","legend":{"title":null}}}},{"data":{"values":[{}]},"mark":{"type":"rule","strokeDash":[2,1.3],"strokeWidth":2.5,"color":"#1c4a7a"},"encoding":{"x":{"datum":0,"axis":null},"x2":{"datum":3},"y":{"datum":0,"scale":{"domain":[-0.5,5.45],"nice":false},"axis":null}}},{"data":{"name":"J11s"},"mark":"line","encoding":{"x":{"field":"x","type":"quantitative","axis":null},"y":{"field":"s","type":"quantitative","title":null,"scale":{"domain":[-0.305,3.32],"nice":false},"axis":{"orient":"right","values":[0,1,2,3]}},"strokeWidth":{"value":2.2},"color":{"datum":"Frecuencia suavizada","legend":{"title":null}}}}],"resolve":{"scale":{"y":"independent"}}},
{"width":343,"data":{"values":[{}]},"encoding":{"x":{"datum":2,"scale":{"domain":[0.97,3.036],"nice":false},"axis":null}},"layer":[{"mark":{"type":"point","opacity":0},"encoding":{"y":{"datum":0,"scale":{"domain":[0,1]},"axis":{"labels":false,"ticks":false,"grid":false,"title":null}}}},{"mark":{"type":"point","opacity":0},"encoding":{"y":{"datum":0,"scale":{"domain":[0,1]},"axis":{"orient":"right","labels":false,"ticks":false,"grid":false,"title":null}}}}],"resolve":{"scale":{"y":"independent"}}},
{"width":343,"data":{"values":[{}]},"encoding":{"x":{"datum":2,"scale":{"domain":[0.97,3.036],"nice":false},"axis":null}},"layer":[{"mark":{"type":"point","opacity":0},"encoding":{"y":{"datum":0,"scale":{"domain":[0,1]},"axis":{"labels":false,"ticks":false,"grid":false,"title":null}}}},{"mark":{"type":"point","opacity":0},"encoding":{"y":{"datum":0,"scale":{"domain":[0,1]},"axis":{"orient":"right","labels":false,"ticks":false,"grid":false,"title":null}}}}],"resolve":{"scale":{"y":"independent"}}},

{"height":25,"view":{"fill":"#d6e2e9"},"data":{"values":[{"t":"22 de Julio 2006 N = 37"}]},"mark":"text","encoding":{"text":{"field":"t"},"x":{"datum":0,"scale":{"domain":[0,1]},"axis":null}}},
{"height":25,"view":{"fill":"#d6e2e9"},"data":{"values":[{"t":"22 de Julio 2006 N = 1"}]},"mark":"text","encoding":{"text":{"field":"t"},"x":{"datum":0,"scale":{"domain":[0,1]},"axis":null}}},
{"height":25,"view":{"fill":"#d6e2e9"},"data":{"values":[{"t":"22 de Julio 2006 N = 0"}]},"mark":"text","encoding":{"text":{"field":"t"},"x":{"datum":0,"scale":{"domain":[0,1]},"axis":null}}},

{"layer":[{"data":{"name":"J12"},"mark":"rule","encoding":{"x":{"field":"x","type":"quantitative","scale":{"domain":[-0.064,3.055],"nice":false},"axis":{"values":[0,1,2,3],"title":"Longitud Tibial (mm)"}},"y":{"field":"f","type":"quantitative","title":null,"scale":{"domain":[-0.3,3.27],"nice":false},"axis":{"values":[0,1,2,3]}},"y2":{"datum":0},"strokeWidth":{"value":2.7},"color":{"datum":"Frecuencia","legend":{"title":null}}}},{"data":{"values":[{}]},"mark":{"type":"rule","strokeDash":[2,1.3],"strokeWidth":2.5,"color":"#1c4a7a"},"encoding":{"x":{"datum":0},"x2":{"datum":3},"y":{"datum":0,"scale":{"domain":[-0.3,3.27],"nice":false},"axis":null}}},{"data":{"name":"J12s"},"mark":"line","encoding":{"x":{"field":"x","type":"quantitative"},"y":{"field":"s","type":"quantitative","title":null,"scale":{"domain":[-0.3,3.27],"nice":false},"axis":{"orient":"right","values":[0,1,2,3]}},"strokeWidth":{"value":2.2},"color":{"datum":"Frecuencia suavizada","legend":{"title":null}}}}],"resolve":{"scale":{"y":"independent"}}},
{"layer":[{"data":{"values":[{"x":2.564,"f":1}]},"mark":"rule","encoding":{"x":{"field":"x","type":"quantitative","scale":{"domain":[0.97,3.036],"nice":false},"axis":{"values":[1,2,3],"title":"Longitud Tibial (mm)"}},"y":{"field":"f","type":"quantitative","title":null,"scale":{"domain":[-0.1,1.09],"nice":false},"axis":{"values":[0,0.5,1]}},"y2":{"datum":0},"strokeWidth":{"value":2.7},"color":{"datum":"Frecuencia","legend":{"title":null}}}},{"data":{"values":[{}]},"mark":{"type":"rule","strokeDash":[2.5,3],"strokeWidth":2.5,"color":"#1c4a7a"},"encoding":{"x":{"datum":1.02},"x2":{"datum":2.99},"y":{"datum":0,"scale":{"domain":[-0.1,1.09],"nice":false},"axis":null}}},{"data":{"values":[{}]},"mark":{"type":"point","opacity":0},"encoding":{"x":{"datum":2},"y":{"datum":0,"scale":{"domain":[0,1]},"axis":{"orient":"right","labels":false,"ticks":false,"grid":false,"title":null}}}}],"resolve":{"scale":{"y":"independent"}}},
{"width":343,"data":{"values":[{}]},"encoding":{"x":{"datum":2,"scale":{"domain":[0.97,3.036],"nice":false},"axis":{"values":[1,2,3],"title":"Longitud Tibial (mm)","titlePadding":16}}},"layer":[{"mark":{"type":"point","opacity":0},"encoding":{"y":{"datum":0,"scale":{"domain":[0,1]},"axis":{"labels":false,"ticks":false,"grid":false,"title":null}}}},{"mark":{"type":"point","opacity":0},"encoding":{"y":{"datum":0,"scale":{"domain":[0,1]},"axis":{"orient":"right","labels":false,"ticks":false,"grid":false,"title":null}}}}],"resolve":{"scale":{"y":"independent"}}}
],
"datasets":{
"J1":[{"x":0.54,"f":2},{"x":0.56,"f":2},{"x":0.585,"f":2},{"x":0.61,"f":2},{"x":0.64,"f":1},{"x":0.7,"f":2},{"x":0.72,"f":1},{"x":0.76,"f":3},{"x":0.785,"f":2},{"x":0.845,"f":1},{"x":0.87,"f":2},{"x":0.9,"f":1},{"x":0.97,"f":1},{"x":0.99,"f":1},{"x":1.01,"f":1},{"x":1.04,"f":1},{"x":1.06,"f":2},{"x":1.08,"f":1},{"x":1.11,"f":1},{"x":1.13,"f":1},{"x":1.16,"f":1},{"x":1.18,"f":1},{"x":1.21,"f":3},{"x":1.23,"f":1},{"x":1.25,"f":1},{"x":1.28,"f":1},{"x":1.32,"f":2},{"x":1.38,"f":1},{"x":1.41,"f":3},{"x":1.45,"f":3},{"x":1.48,"f":2},{"x":1.51,"f":2},{"x":1.54,"f":1},{"x":1.6,"f":2},{"x":1.63,"f":1},{"x":1.66,"f":3},{"x":1.72,"f":3},{"x":1.74,"f":3},{"x":1.78,"f":4},{"x":1.81,"f":2},{"x":1.87,"f":1},{"x":1.89,"f":1},{"x":1.91,"f":1},{"x":1.93,"f":1},{"x":2.02,"f":1},{"x":2.08,"f":2},{"x":2.11,"f":1},{"x":2.17,"f":3},{"x":2.2,"f":1},{"x":2.23,"f":1},{"x":2.38,"f":1},{"x":2.47,"f":1}],
"J1s":[{"x":0.04,"s":0},{"x":0.25,"s":0.1},{"x":0.41,"s":0.55},{"x":0.5,"s":1.26},{"x":0.56,"s":1.86},{"x":0.65,"s":2.38},{"x":0.74,"s":2.57},{"x":0.86,"s":2.52},{"x":1.01,"s":2.52},{"x":1.16,"s":2.7},{"x":1.32,"s":3.05},{"x":1.47,"s":3.36},{"x":1.65,"s":3.68},{"x":1.8,"s":3.3},{"x":1.92,"s":2.33},{"x":2.01,"s":2.0},{"x":2.16,"s":1.62},{"x":2.32,"s":1.1},{"x":2.47,"s":0.55},{"x":2.62,"s":0.19},{"x":2.77,"s":0.05},{"x":2.98,"s":0}],
"J2":[{"x":0.52,"f":1},{"x":0.54,"f":8},{"x":0.57,"f":5},{"x":0.6,"f":2},{"x":0.64,"f":1},{"x":0.67,"f":1},{"x":0.7,"f":4},{"x":0.72,"f":1},{"x":0.76,"f":2},{"x":0.82,"f":1},{"x":0.88,"f":1},{"x":0.91,"f":1},{"x":0.94,"f":1},{"x":1.06,"f":2},{"x":1.33,"f":1},{"x":1.42,"f":2},{"x":1.6,"f":2},{"x":1.66,"f":1},{"x":1.69,"f":1},{"x":1.75,"f":2},{"x":1.78,"f":1},{"x":1.81,"f":2},{"x":1.93,"f":1},{"x":1.96,"f":1},{"x":2.23,"f":1},{"x":2.26,"f":1},{"x":2.45,"f":1}],
"J2s":[{"x":0.09,"s":0.86},{"x":0.19,"s":1.6},{"x":0.32,"s":2.6},{"x":0.44,"s":3.58},{"x":0.53,"s":4.07},{"x":0.59,"s":4.12},{"x":0.68,"s":3.7},{"x":0.8,"s":2.84},{"x":0.95,"s":1.85},{"x":1.07,"s":1.48},{"x":1.19,"s":1.36},{"x":1.38,"s":1.56},{"x":1.56,"s":1.75},{"x":1.68,"s":1.73},{"x":1.86,"s":1.31},{"x":2.04,"s":0.99},{"x":2.22,"s":0.69},{"x":2.41,"s":0.37},{"x":2.59,"s":0.17},{"x":2.77,"s":0.07},{"x":2.95,"s":0}],
"J3":[{"x":0.45,"f":1},{"x":0.48,"f":1},{"x":0.52,"f":5},{"x":0.54,"f":8},{"x":0.57,"f":6},{"x":0.6,"f":3},{"x":0.64,"f":1},{"x":0.67,"f":1},{"x":0.7,"f":1},{"x":0.72,"f":6},{"x":0.76,"f":1},{"x":0.78,"f":1},{"x":0.82,"f":4},{"x":0.85,"f":2},{"x":0.88,"f":1},{"x":0.91,"f":1},{"x":0.94,"f":1},{"x":0.97,"f":2},{"x":1.0,"f":1},{"x":1.09,"f":2},{"x":1.15,"f":1},{"x":1.18,"f":1},{"x":1.21,"f":1},{"x":1.33,"f":1},{"x":1.42,"f":1},{"x":1.45,"f":1},{"x":1.57,"f":1},{"x":1.65,"f":1},{"x":1.72,"f":1},{"x":1.84,"f":1},{"x":2.08,"f":1}],
"J3s":[{"x":0.04,"s":0},{"x":0.19,"s":0.2},{"x":0.32,"s":0.86},{"x":0.41,"s":1.93},{"x":0.5,"s":3.6},{"x":0.57,"s":4.85},{"x":0.63,"s":5.1},{"x":0.71,"s":4.7},{"x":0.8,"s":3.77},{"x":0.92,"s":2.7},{"x":1.04,"s":1.93},{"x":1.16,"s":1.47},{"x":1.32,"s":1.0},{"x":1.5,"s":0.7},{"x":1.68,"s":0.55},{"x":1.92,"s":0.37},{"x":2.1,"s":0.18},{"x":2.22,"s":0.1},{"x":2.53,"s":0.03},{"x":2.98,"s":0}],
"J4":[{"x":0.45,"f":1},{"x":0.48,"f":1},{"x":0.52,"f":5},{"x":0.54,"f":20},{"x":0.57,"f":15},{"x":0.6,"f":14},{"x":0.67,"f":5},{"x":0.7,"f":7},{"x":0.72,"f":3},{"x":0.76,"f":1},{"x":0.78,"f":2},{"x":0.82,"f":1},{"x":0.85,"f":1},{"x":0.91,"f":1},{"x":1.12,"f":2},{"x":1.24,"f":1},{"x":1.69,"f":1},{"x":1.78,"f":2},{"x":1.82,"f":1},{"x":1.85,"f":1},{"x":1.89,"f":1},{"x":2.16,"f":1}],
"J4s":[{"x":0.07,"s":0.5},{"x":0.19,"s":2.1},{"x":0.32,"s":4.7},{"x":0.44,"s":7.9},{"x":0.53,"s":10.2},{"x":0.59,"s":10.8},{"x":0.65,"s":10.7},{"x":0.74,"s":9.2},{"x":0.86,"s":6.0},{"x":0.98,"s":3.1},{"x":1.1,"s":1.5},{"x":1.25,"s":0.7},{"x":1.47,"s":0.5},{"x":1.68,"s":0.77},{"x":1.86,"s":0.84},{"x":2.01,"s":0.5},{"x":2.22,"s":0.2},{"x":2.47,"s":0.06},{"x":2.98,"s":0}],
"J5":[{"x":0.43,"f":1},{"x":0.47,"f":3},{"x":0.5,"f":1},{"x":0.53,"f":4},{"x":0.55,"f":16},{"x":0.58,"f":18},{"x":0.61,"f":11},{"x":0.65,"f":3},{"x":0.68,"f":6},{"x":0.71,"f":4},{"x":0.73,"f":3},{"x":0.8,"f":1},{"x":0.83,"f":4},{"x":0.86,"f":4},{"x":0.89,"f":3},{"x":0.92,"f":3},{"x":0.98,"f":1},{"x":1.01,"f":1},{"x":1.04,"f":2},{"x":1.13,"f":1},{"x":1.28,"f":1},{"x":1.4,"f":1},{"x":1.79,"f":1},{"x":1.88,"f":1}],
"J5s":[{"x":0.07,"s":0},{"x":0.25,"s":0.1},{"x":0.38,"s":1.0},{"x":0.47,"s":4.0},{"x":0.54,"s":7.5},{"x":0.59,"s":9.1},{"x":0.65,"s":8.1},{"x":0.74,"s":5.1},{"x":0.83,"s":3.4},{"x":0.95,"s":2.2},{"x":1.07,"s":0.7},{"x":1.19,"s":0.3},{"x":1.47,"s":0.25},{"x":1.68,"s":0.1},{"x":1.86,"s":0.35},{"x":1.98,"s":0.1},{"x":2.35,"s":0}],
"J6":[{"x":0.5,"f":1},{"x":0.53,"f":1},{"x":0.56,"f":5},{"x":0.59,"f":4},{"x":0.62,"f":1},{"x":0.65,"f":3},{"x":0.68,"f":4},{"x":0.71,"f":1},{"x":0.74,"f":4},{"x":0.83,"f":4},{"x":0.86,"f":2},{"x":0.92,"f":1},{"x":1.01,"f":2},{"x":1.04,"f":1},{"x":1.1,"f":1},{"x":1.13,"f":1},{"x":1.52,"f":1},{"x":1.88,"f":1},{"x":1.95,"f":1},{"x":2.4,"f":1}],
"J6s":[{"x":0.13,"s":0},{"x":0.32,"s":0.1},{"x":0.44,"s":0.9},{"x":0.53,"s":2.36},{"x":0.6,"s":2.82},{"x":0.66,"s":2.82},{"x":0.74,"s":2.36},{"x":0.83,"s":1.73},{"x":0.95,"s":1.0},{"x":1.04,"s":0.82},{"x":1.13,"s":0.45},{"x":1.25,"s":0.04},{"x":1.38,"s":0.02},{"x":1.53,"s":0.15},{"x":1.68,"s":0},{"x":1.89,"s":0.25},{"x":2.04,"s":0},{"x":2.41,"s":0.1},{"x":2.59,"s":0},{"x":2.86,"s":0}],
"J7":[{"x":0.56,"f":1},{"x":0.59,"f":2},{"x":0.62,"f":3},{"x":0.68,"f":3},{"x":0.71,"f":6},{"x":0.74,"f":2},{"x":0.77,"f":1},{"x":0.8,"f":1},{"x":0.86,"f":2},{"x":0.89,"f":2},{"x":0.92,"f":4},{"x":0.98,"f":1},{"x":1.04,"f":3},{"x":1.07,"f":1},{"x":1.1,"f":1},{"x":2.13,"f":1},{"x":2.22,"f":1},{"x":2.42,"f":1},{"x":2.45,"f":1}],
"J7s":[{"x":0.16,"s":0},{"x":0.35,"s":0.19},{"x":0.47,"s":0.98},{"x":0.56,"s":1.85},{"x":0.65,"s":2.4},{"x":0.71,"s":2.4},{"x":0.8,"s":2.07},{"x":0.92,"s":1.7},{"x":1.04,"s":1.13},{"x":1.13,"s":0.48},{"x":1.25,"s":0.04},{"x":1.5,"s":0},{"x":1.92,"s":0},{"x":2.04,"s":0.12},{"x":2.13,"s":0.23},{"x":2.28,"s":0.26},{"x":2.41,"s":0.3},{"x":2.5,"s":0.23},{"x":2.62,"s":0.04},{"x":2.98,"s":0}],
"J8":[{"x":0.47,"f":1},{"x":0.5,"f":1},{"x":0.56,"f":1},{"x":0.59,"f":1},{"x":0.65,"f":1},{"x":0.68,"f":1},{"x":0.74,"f":1},{"x":0.8,"f":3},{"x":0.86,"f":2},{"x":0.95,"f":1},{"x":0.98,"f":2},{"x":1.01,"f":1},{"x":1.04,"f":2},{"x":1.07,"f":1},{"x":1.13,"f":1},{"x":1.19,"f":2},{"x":1.25,"f":1},{"x":1.55,"f":1},{"x":2.1,"f":1}],
"J8s":[{"x":0.07,"s":0},{"x":0.22,"s":0.16},{"x":0.41,"s":0.71},{"x":0.56,"s":1.14},{"x":0.71,"s":1.63},{"x":0.83,"s":1.94},{"x":0.92,"s":2.02},{"x":1.01,"s":1.94},{"x":1.13,"s":1.57},{"x":1.25,"s":1.02},{"x":1.38,"s":0.47},{"x":1.5,"s":0.22},{"x":1.68,"s":0.1},{"x":1.92,"s":0.13},{"x":2.1,"s":0.18},{"x":2.28,"s":0.1},{"x":2.53,"s":0.01},{"x":2.98,"s":0}],
"J9":[{"x":0.53,"f":1},{"x":0.55,"f":2},{"x":0.64,"f":3},{"x":0.7,"f":3},{"x":0.73,"f":4},{"x":0.76,"f":2},{"x":0.79,"f":5},{"x":0.85,"f":5},{"x":0.92,"f":2},{"x":0.95,"f":1},{"x":0.98,"f":4},{"x":1.01,"f":1},{"x":1.04,"f":1},{"x":1.07,"f":1},{"x":1.1,"f":3},{"x":1.13,"f":1},{"x":1.24,"f":1},{"x":1.34,"f":3},{"x":1.39,"f":3},{"x":1.45,"f":2},{"x":1.48,"f":1},{"x":1.55,"f":1},{"x":1.66,"f":1},{"x":1.78,"f":1}],
"J9s":[{"x":0.07,"s":0},{"x":0.32,"s":0.15},{"x":0.47,"s":0.9},{"x":0.59,"s":2.03},{"x":0.71,"s":2.87},{"x":0.8,"s":3.15},{"x":0.86,"s":3.06},{"x":0.98,"s":2.21},{"x":1.1,"s":1.46},{"x":1.19,"s":1.13},{"x":1.28,"s":1.24},{"x":1.38,"s":1.37},{"x":1.47,"s":1.09},{"x":1.56,"s":0.62},{"x":1.68,"s":0.24},{"x":1.86,"s":0.06},{"x":2.04,"s":0},{"x":2.35,"s":0}],
"J10":[{"x":0.55,"f":1},{"x":0.58,"f":1},{"x":0.6,"f":1},{"x":0.63,"f":1},{"x":0.65,"f":1},{"x":0.68,"f":1},{"x":0.73,"f":2},{"x":0.76,"f":1},{"x":0.79,"f":1},{"x":0.82,"f":1},{"x":0.85,"f":1},{"x":0.92,"f":1},{"x":0.95,"f":2},{"x":0.98,"f":1},{"x":1.01,"f":1},{"x":1.07,"f":2},{"x":1.1,"f":1},{"x":1.16,"f":1},{"x":1.19,"f":1},{"x":1.34,"f":1},{"x":1.36,"f":1},{"x":1.39,"f":1},{"x":1.42,"f":2},{"x":1.48,"f":3},{"x":1.52,"f":2},{"x":1.55,"f":1},{"x":1.61,"f":1},{"x":1.78,"f":1},{"x":1.91,"f":1},{"x":1.93,"f":1},{"x":1.96,"f":1},{"x":2.38,"f":1},{"x":2.51,"f":1}],
"J10s":[{"x":0.07,"s":0},{"x":0.25,"s":0.19},{"x":0.41,"s":0.69},{"x":0.56,"s":1.42},{"x":0.71,"s":2.07},{"x":0.83,"s":2.33},{"x":0.95,"s":2.33},{"x":1.07,"s":2.21},{"x":1.19,"s":2.11},{"x":1.32,"s":2.11},{"x":1.44,"s":2.14},{"x":1.56,"s":1.85},{"x":1.71,"s":1.34},{"x":1.86,"s":0.91},{"x":2.04,"s":0.62},{"x":2.22,"s":0.38},{"x":2.38,"s":0.33},{"x":2.53,"s":0.26},{"x":2.71,"s":0.12},{"x":2.92,"s":0}],
"J11":[{"x":0.52,"f":1},{"x":0.58,"f":5},{"x":0.73,"f":1},{"x":0.76,"f":2},{"x":0.79,"f":1},{"x":0.98,"f":1},{"x":1.01,"f":1},{"x":1.07,"f":2},{"x":1.1,"f":1},{"x":1.13,"f":3},{"x":1.19,"f":4},{"x":1.25,"f":1},{"x":1.28,"f":4},{"x":1.31,"f":1},{"x":1.34,"f":3},{"x":1.4,"f":2},{"x":1.43,"f":2},{"x":1.46,"f":2},{"x":1.49,"f":1},{"x":1.52,"f":3},{"x":1.55,"f":1},{"x":1.58,"f":1},{"x":1.61,"f":1},{"x":1.67,"f":2},{"x":1.7,"f":1},{"x":1.73,"f":2},{"x":1.76,"f":2},{"x":1.79,"f":1},{"x":1.82,"f":3},{"x":1.92,"f":1},{"x":1.98,"f":1},{"x":2.04,"f":2},{"x":2.1,"f":1},{"x":2.13,"f":1},{"x":2.25,"f":2},{"x":2.51,"f":1}],
"J11s":[{"x":0.04,"s":0},{"x":0.28,"s":0.13},{"x":0.41,"s":0.55},{"x":0.53,"s":1.09},{"x":0.62,"s":1.27},{"x":0.71,"s":1.27},{"x":0.83,"s":1.15},{"x":0.92,"s":1.18},{"x":1.01,"s":1.73},{"x":1.13,"s":2.45},{"x":1.25,"s":2.91},{"x":1.35,"s":3.04},{"x":1.44,"s":2.96},{"x":1.62,"s":2.64},{"x":1.8,"s":2.18},{"x":1.98,"s":1.55},{"x":2.16,"s":1.09},{"x":2.32,"s":0.64},{"x":2.47,"s":0.27},{"x":2.65,"s":0.09},{"x":2.83,"s":0}],
"J12":[{"x":0.52,"f":3},{"x":0.54,"f":1},{"x":0.58,"f":1},{"x":0.61,"f":2},{"x":0.64,"f":1},{"x":0.7,"f":2},{"x":0.73,"f":3},{"x":0.79,"f":2},{"x":0.82,"f":1},{"x":0.85,"f":1},{"x":0.98,"f":1},{"x":1.01,"f":2},{"x":1.1,"f":1},{"x":1.16,"f":1},{"x":1.19,"f":1},{"x":1.28,"f":1},{"x":1.45,"f":1},{"x":1.55,"f":3},{"x":1.75,"f":1},{"x":1.85,"f":1},{"x":1.94,"f":1},{"x":2.03,"f":1},{"x":2.12,"f":2},{"x":2.42,"f":1},{"x":2.6,"f":1},{"x":2.63,"f":1}],
"J12s":[{"x":0.1,"s":0.4},{"x":0.25,"s":0.8},{"x":0.41,"s":1.62},{"x":0.56,"s":2.33},{"x":0.68,"s":2.78},{"x":0.74,"s":2.96},{"x":0.83,"s":2.87},{"x":0.95,"s":2.6},{"x":1.07,"s":2.15},{"x":1.22,"s":1.7},{"x":1.38,"s":1.47},{"x":1.56,"s":1.26},{"x":1.74,"s":1.13},{"x":1.92,"s":1.08},{"x":2.1,"s":0.99},{"x":2.28,"s":0.9},{"x":2.47,"s":0.72},{"x":2.65,"s":0.5},{"x":2.83,"s":0.32},{"x":2.95,"s":0.2}],
"P1":[{"x":1.576,"f":1},{"x":1.998,"f":1},{"x":2.209,"f":1},{"x":2.329,"f":1},{"x":2.355,"f":2},{"x":2.476,"f":1},{"x":2.63,"f":1},{"x":2.9,"f":1}],
"P1s":[{"x":1.044,"s":0},{"x":1.215,"s":0.024},{"x":1.416,"s":0.11},{"x":1.556,"s":0.157},{"x":1.717,"s":0.12},{"x":1.857,"s":0.157},{"x":2.018,"s":0.286},{"x":2.139,"s":0.467},{"x":2.259,"s":0.68},{"x":2.36,"s":0.76},{"x":2.46,"s":0.68},{"x":2.56,"s":0.54},{"x":2.66,"s":0.386},{"x":2.78,"s":0.276},{"x":2.96,"s":0.124}],
"P2":[{"x":1.847,"f":1},{"x":2.209,"f":1},{"x":2.235,"f":1},{"x":2.42,"f":1},{"x":2.444,"f":1},{"x":2.51,"f":4},{"x":2.6,"f":1}],
"P2s":[{"x":2.008,"s":0},{"x":2.139,"s":0.024},{"x":2.199,"s":0.136},{"x":2.279,"s":0.306},{"x":2.339,"s":0.233},{"x":2.379,"s":0.184},{"x":2.44,"s":0.427},{"x":2.5,"s":0.67},{"x":2.55,"s":0.767},{"x":2.6,"s":0.621},{"x":2.66,"s":0.28},{"x":2.74,"s":0.015},{"x":2.82,"s":0},{"x":2.96,"s":0}],
"H1":[{"x":1.776,"f":1},{"x":1.839,"f":1},{"x":1.897,"f":2},{"x":1.956,"f":3},{"x":2.046,"f":2},{"x":2.077,"f":3},{"x":2.194,"f":1},{"x":2.224,"f":1},{"x":2.256,"f":1},{"x":2.284,"f":2},{"x":2.466,"f":1},{"x":2.585,"f":1},{"x":2.734,"f":1},{"x":2.768,"f":1}],
"H1s":[{"x":1.343,"s":0},{"x":1.565,"s":0.02},{"x":1.685,"s":0.15},{"x":1.786,"s":0.56},{"x":1.887,"s":1.01},{"x":1.968,"s":1.28},{"x":2.048,"s":1.41},{"x":2.089,"s":1.41},{"x":2.169,"s":1.23},{"x":2.27,"s":1.03},{"x":2.371,"s":0.69},{"x":2.472,"s":0.38},{"x":2.573,"s":0.31},{"x":2.673,"s":0.31},{"x":2.774,"s":0.34},{"x":2.875,"s":0.2},{"x":2.976,"s":0.06}],
"H2":[{"x":1.806,"f":1},{"x":1.837,"f":1},{"x":1.867,"f":2},{"x":1.897,"f":1},{"x":2.046,"f":1},{"x":2.194,"f":1},{"x":2.284,"f":1},{"x":2.315,"f":1},{"x":2.373,"f":1},{"x":2.435,"f":1},{"x":2.615,"f":1},{"x":2.645,"f":1},{"x":2.768,"f":1}],
"H2s":[{"x":1.313,"s":0},{"x":1.524,"s":0.01},{"x":1.645,"s":0.107},{"x":1.746,"s":0.42},{"x":1.847,"s":0.74},{"x":1.907,"s":0.8},{"x":1.968,"s":0.74},{"x":2.069,"s":0.54},{"x":2.149,"s":0.47},{"x":2.27,"s":0.62},{"x":2.371,"s":0.66},{"x":2.472,"s":0.61},{"x":2.573,"s":0.54},{"x":2.673,"s":0.49},{"x":2.774,"s":0.38},{"x":2.875,"s":0.23},{"x":2.966,"s":0.08}]
},
"config":{
"view":{"stroke":null,"fill":"#ffffff","continuousWidth":343,"continuousHeight":67,"discreteWidth":343,"discreteHeight":67},
"range":{"category":["#1c4a7a","#9a363c"]},
"text":{"font":"Liberation Serif","fontWeight":"bold","fontSize":20,"align":"left","baseline":"alphabetic","dx":3,"dy":7,"color":"#111111"},
"line":{"interpolate":"monotone"},
"axis":{"grid":false,"labelFont":"Liberation Sans","labelFontSize":8,"labelColor":"#444444","tickColor":"#666666","tickSize":3,"domainColor":"#444444","labelPadding":1,"labelOverlap":false,"labelFlush":false,"labelExpr":"replace(format(datum.value,'~g'),'0.','.')"},
"axisY":{"labelAngle":-90},
"axisLeft":{"grid":true,"gridColor":"#e6edf2"},
"axisX":{"titleFont":"Liberation Sans","titleFontSize":27,"titleFontWeight":"normal","titleColor":"#111111","titlePadding":10,"tickSize":4,"labelPadding":2,"labelFontSize":9},
"legend":{"orient":"none","legendX":247,"legendY":1170,"direction":"horizontal","labelFont":"Liberation Sans","labelFontSize":27,"labelColor":"#111111","symbolType":"M-5,0H5","symbolSize":441,"symbolStrokeWidth":7,"symbolOffset":42,"labelOffset":50,"columnPadding":18,"strokeColor":"#222222","fillColor":"#ffffff","padding":13,"labelLimit":600}
}
}
